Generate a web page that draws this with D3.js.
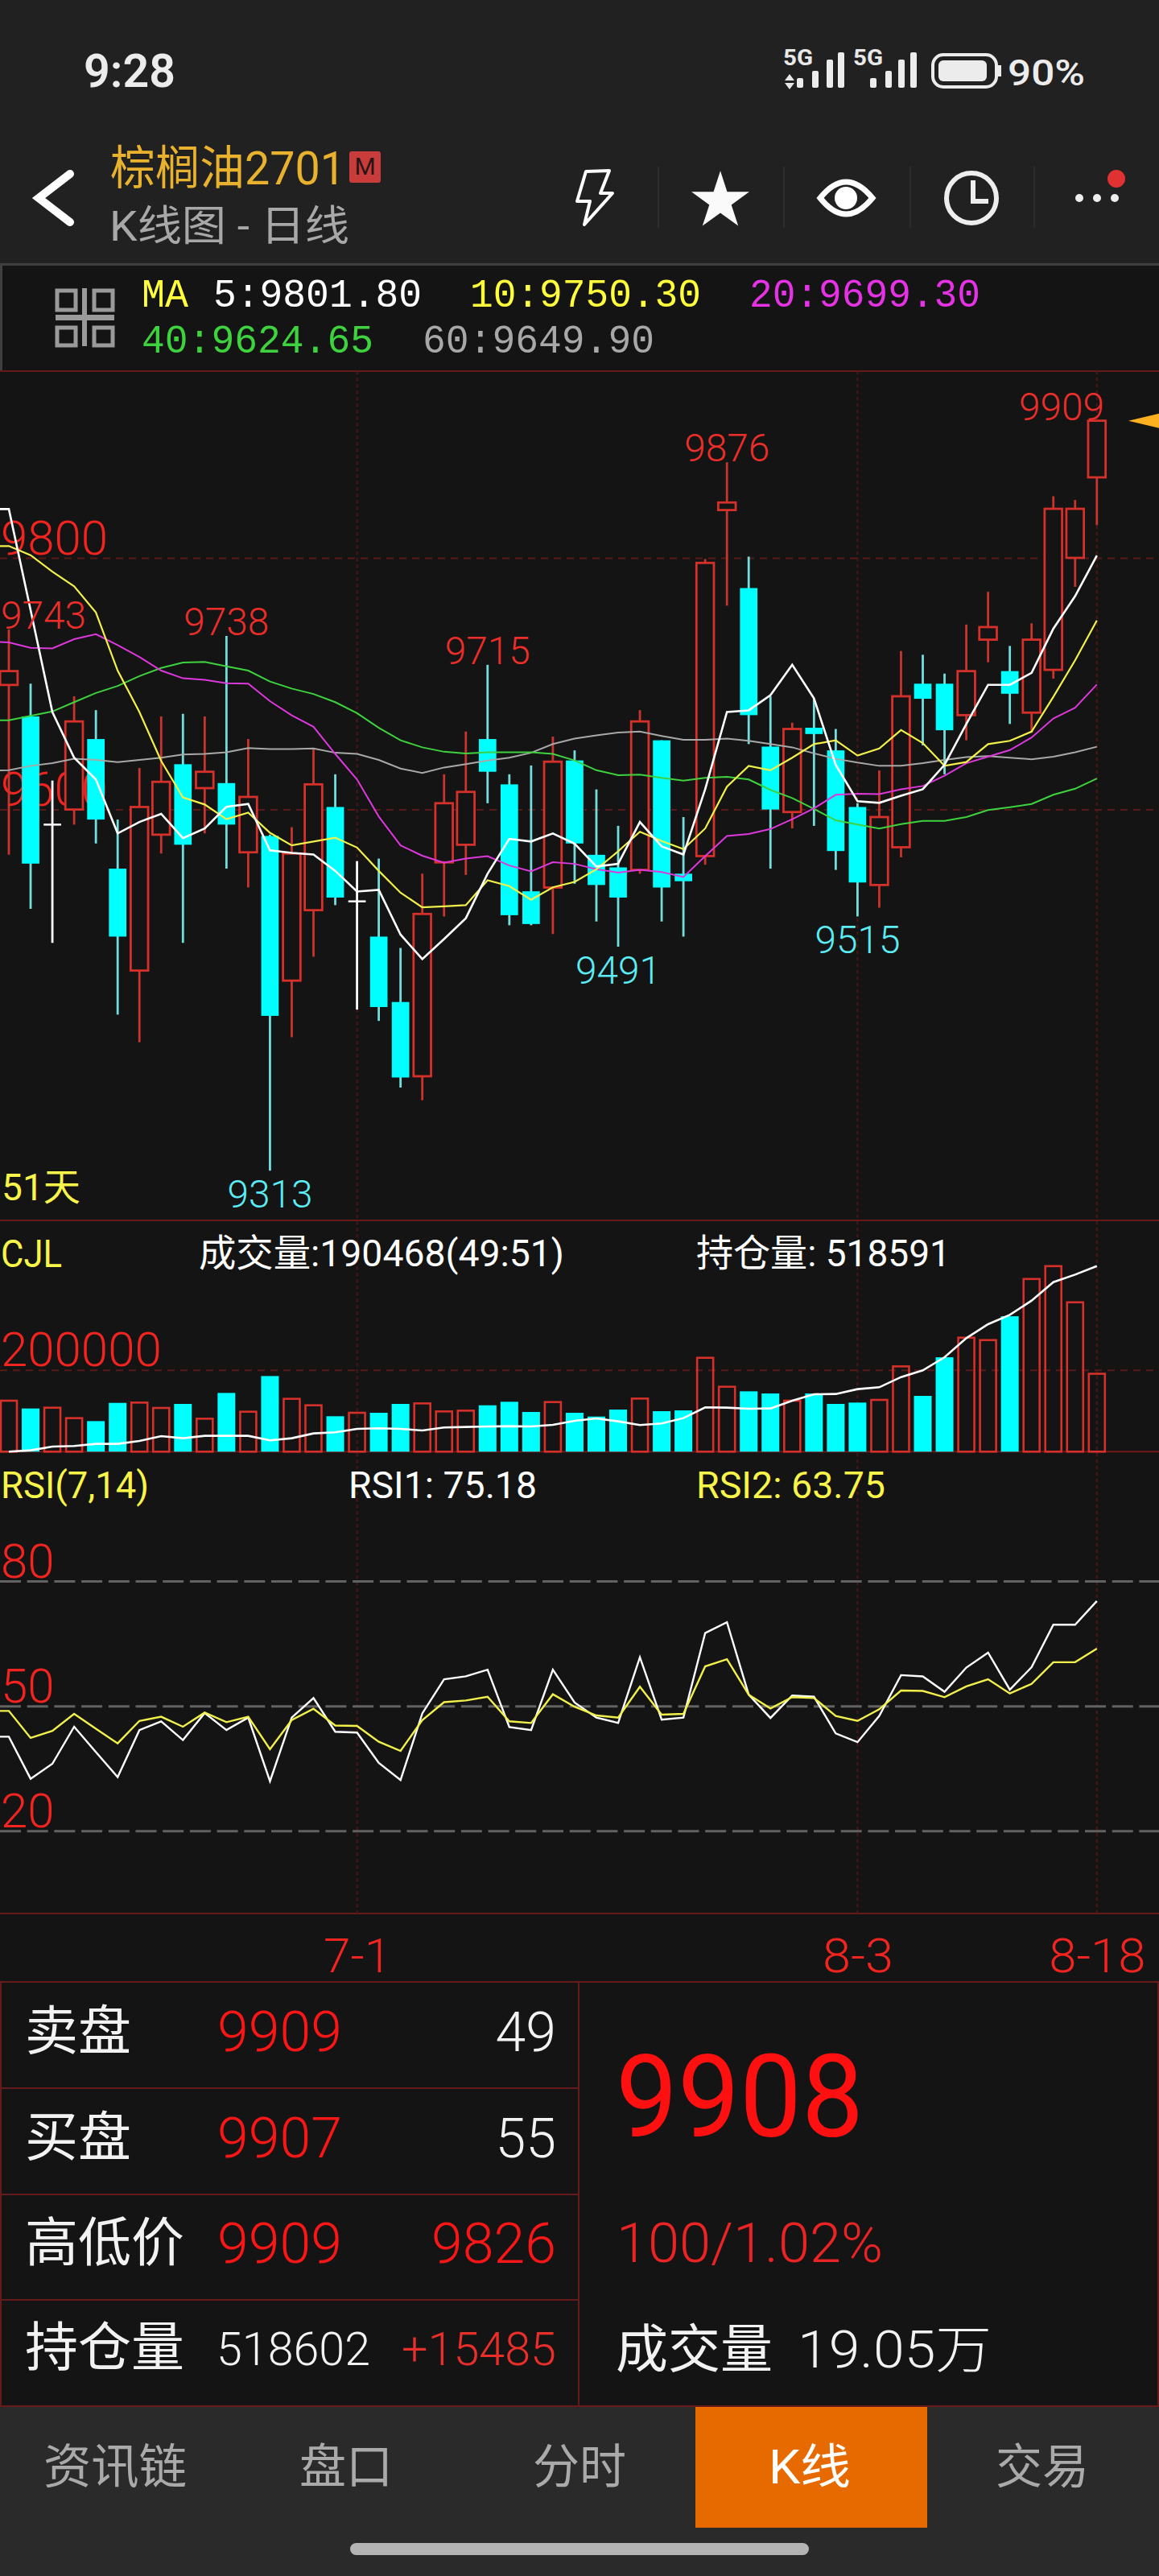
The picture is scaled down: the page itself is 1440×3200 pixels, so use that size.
<!DOCTYPE html>
<html><head><meta charset="utf-8">
<script src="https://cdn.jsdelivr.net/npm/d3@7/dist/d3.min.js"></script>
<style>
html,body{margin:0;padding:0;background:#212121}
svg{display:block}
text{font-family:Roboto,"Noto Sans CJK SC",sans-serif}
.mono{font-family:"Liberation Mono","DejaVu Sans Mono",monospace}
</style></head><body><div id="c"></div>
<script>
// ---------- data ----------
const candleOpen=[9699,9674,9588,9600,9656,9553,9472,9580,9636,9617,9621,9566,9579,9464,9520,9602,9527,9499,9447,9388,9558,9572,9656,9620,9535,9538,9639,9564,9554,9552,9655,9549,9563,9838,9776,9650,9598,9665,9647,9602,9540,9570,9700,9700,9675,9735,9710,9677,9711,9800,9864];
const candleClose=[9710,9557,9588,9670,9592,9499,9602,9622,9572,9630,9588,9610,9436,9565,9620,9530,9527,9443,9387,9517,9605,9614,9630,9516,9509,9638,9573,9540,9530,9670,9538,9543,9796,9844,9675,9600,9664,9660,9567,9542,9594,9690,9688,9663,9710,9745,9692,9735,9839,9839,9909];
const candleHigh=[9743,9700,9623,9690,9679,9592,9633,9674,9676,9674,9738,9656,9580,9586,9649,9628,9559,9561,9490,9549,9628,9662,9715,9628,9635,9658,9647,9616,9587,9679,9655,9594,9799,9876,9801,9690,9669,9688,9664,9605,9631,9726,9723,9708,9747,9773,9730,9748,9849,9846,9909];
const candleLow=[9564,9521,9494,9588,9573,9437,9415,9565,9494,9581,9553,9538,9313,9419,9483,9524,9441,9432,9379,9369,9515,9548,9605,9508,9508,9501,9541,9511,9491,9549,9511,9499,9556,9762,9652,9553,9585,9587,9552,9515,9522,9562,9651,9628,9655,9717,9668,9661,9704,9777,9826];
// moving averages: first value is the day before the first candle
const ma5=[9838.8,9838.8,9758.4,9677.5,9641.2,9623.9,9581.0,9590.1,9596.6,9577.2,9584.9,9602.2,9604.4,9567.6,9565.5,9564.2,9551.2,9534.8,9536.1,9500.6,9481.1,9497.1,9513.6,9549.0,9576.7,9574.6,9581.0,9572.8,9554.7,9556.8,9590.1,9570.7,9564.2,9616.1,9677.5,9678.8,9690.9,9715.1,9688.3,9635.5,9606.6,9605.3,9610.9,9616.1,9635.5,9668.0,9699.1,9699.1,9708.6,9743.7,9769.6,9801.8];
const ma10=[9809.4,9809.4,9802.1,9789.1,9777.4,9756.6,9710.4,9677.5,9638.6,9609.6,9604.0,9592.3,9597.5,9581.5,9571.5,9574.6,9577.6,9569.8,9551.2,9533.9,9522.2,9523.1,9524.0,9543.8,9539.1,9528.3,9538.2,9542.5,9552.5,9566.8,9582.3,9575.0,9568.5,9584.9,9618.2,9634.7,9631.2,9641.2,9652.0,9655.0,9642.9,9648.5,9663.2,9652.8,9634.7,9637.7,9652.0,9654.6,9661.9,9689.6,9718.6,9750.3];
const ma20=[9733.7,9732.8,9728.5,9728.1,9735.4,9739.3,9730.7,9721.2,9710.4,9704.3,9703.0,9700.4,9700.0,9686.1,9674.9,9665.8,9644.2,9623.9,9594.4,9571.5,9563.3,9557.7,9561.1,9562.9,9555.5,9550.8,9558.1,9556.8,9552.5,9549.9,9552.1,9550.3,9546.4,9562.9,9578.9,9580.6,9584.5,9592.3,9600.9,9611.7,9612.6,9612.2,9616.1,9618.7,9626.9,9636.8,9642.0,9647.2,9657.2,9672.3,9680.9,9699.3];
const ma40=[9671.0,9671.0,9674.5,9677.9,9685.3,9692.6,9698.2,9706.0,9712.5,9716.8,9717.3,9713.8,9710.4,9701.7,9696.1,9691.8,9685.3,9676.6,9664.9,9655.0,9649.4,9645.9,9644.6,9645.5,9645.5,9645.5,9644.2,9639.0,9631.2,9627.3,9627.8,9625.2,9623.0,9625.2,9626.0,9623.9,9615.6,9609.1,9600.5,9591.4,9588.0,9584.9,9588.4,9591.0,9591.0,9594.0,9599.6,9601.8,9604.4,9611.7,9616.5,9624.65];
const ma60=[9630.8,9631.2,9634.7,9636.8,9640.3,9639.4,9637.7,9639.4,9641.2,9643.8,9644.2,9645.5,9648.9,9648.1,9648.1,9648.5,9645.1,9644.2,9639.4,9632.5,9629.1,9633.4,9636.0,9639.0,9641.2,9645.1,9652.0,9656.3,9658.9,9661.1,9661.9,9658.5,9655.4,9655.4,9656.3,9654.6,9652.0,9649.4,9644.6,9640.3,9637.3,9634.7,9634.7,9636.8,9639.4,9641.6,9642.5,9641.2,9639.9,9642.0,9645.5,9649.9];
const volume=[124600,105600,107500,82000,74700,119300,120000,106900,116700,80600,143600,97700,184900,129200,113400,86600,95100,95100,116700,118000,98400,100300,113400,122000,97000,121300,95100,85900,102900,129800,99000,101000,229500,158700,147500,142300,124600,142300,116700,120000,126600,208500,136400,230800,278700,272800,331100,422300,453700,365200,190468];
const openInterest=[183663,186083,192859,193827,197699,197699,203023,211735,207863,212219,212219,212219,203991,207863,216575,218511,224803,225771,224803,221899,227223,228191,229159,229643,229159,232063,239323,243679,238355,231579,234483,244163,263523,263039,261103,261587,275623,287239,287723,296435,299823,318215,330315,354031,388395,413563,430503,456155,489551,503103,518591];
const rsi1=[42.6,42.6,32.5,36.1,45.0,38.9,32.9,44.2,46.3,41.8,48.3,44.2,47.2,31.9,47.2,51.9,43.8,43.6,36.3,32.2,48.2,56.4,57.1,58.7,44.9,44.2,58.7,50.8,47.2,45.9,61.7,46.7,47.2,67.5,70.1,52.7,47.1,52.5,52.2,43.4,41.3,47.6,57.4,57.1,53.4,59.2,62.8,53.9,59.3,69.5,69.5,75.18];
const rsi2=[48.8,48.8,42.3,44.0,48.1,44.5,41.0,46.4,47.4,45.0,48.4,46.1,47.4,39.6,46.6,49.3,45.3,45.2,41.4,39.2,46.6,50.9,51.3,52.2,46.3,45.9,52.8,49.8,47.7,47.2,54.6,47.9,48.1,59.5,61.2,52.7,49.4,52.1,51.9,47.6,46.4,49.2,53.7,53.6,52.1,54.7,56.4,53.0,55.3,60.5,60.5,63.75];
const priceTicks=[9600,9800];
const volumeTicks=[200000];
const rsiTicks=[20,50,80];
const dateIndex=[16,39,50];
const dateLabels=["7-1","8-3","8-18"];
const peakIndex=[0,10,22,33,50];
const troughIndex=[12,28,39];
const maHeader=[["5:9801.80","#ffffff"],["10:9750.30","#ffff3c"],["20:9699.30","#e432e4"],["40:9624.65","#3ed23e"],["60:9649.90","#a8a8a8"]];
const navLabels=["资讯链","盘口","分时","K线","交易"];

// ---------- page ----------
const W=1440,H=3200;
const svg=d3.select("#c").append("svg").attr("width",W).attr("height",H).attr("viewBox",[0,0,W,H]);
const RED="#d5302a",TXTRED="#f22420",CY="#00ffff",GRID="#5a1818",LINE="#661a1a";
const rect=(g,x,y,w,h,f)=>g.append("rect").attr("x",x).attr("y",y).attr("width",w).attr("height",h).attr("fill",f);
function T(g,s,x,y,size,fill,o={}){
  const t=g.append("text").attr("x",x).attr("y",y).attr("font-size",size).attr("fill",fill)
   .attr("text-anchor",o.anchor||"start").attr("font-weight",o.weight||400).text(s);
  if(o.len)t.attr("textLength",o.len).attr("lengthAdjust","spacingAndGlyphs");
  if(o.cls)t.attr("class",o.cls);
  return t;
}
rect(svg,0,0,W,H,"#212121");
rect(svg,0,328,W,2662,"#141414");

// header
const hd=svg.append("g");
T(hd,"9:28",104,108,58,"#ececec",{weight:600,len:114});
function signal(g,x0,bars,arrows){
  T(g,"5G",x0,81,27,"#e8e8e8",{weight:700,len:37});
  if(arrows){g.append("path").attr("d",`M${x0+8} 92l-6 8h12zM${x0+8} 111l-6 -8h12z`).attr("fill","#e8e8e8");}
  bars.forEach(b=>g.append("rect").attr("x",b[0]).attr("y",b[1]).attr("width",8).attr("height",109-b[1]).attr("rx",2).attr("fill","#ececec"));
}
signal(hd,973,[[990,97],[1009,88],[1027,74],[1041,65]],true);
signal(hd,1060,[[1081,97],[1100,88],[1116,74],[1131,65]],false);
hd.append("rect").attr("x",1159).attr("y",68).attr("width",79).attr("height",40).attr("rx",13).attr("fill","none").attr("stroke","#ececec").attr("stroke-width",4);
hd.append("rect").attr("x",1166).attr("y",75).attr("width",60).attr("height",26).attr("rx",6).attr("fill","#ececec");
rect(hd,1240,81,4,14,"#ececec");
T(hd,"90%",1252,106,44,"#ececec",{weight:500,len:96});
hd.append("path").attr("d","M87 216L48 246L87 276").attr("fill","none").attr("stroke","#fff").attr("stroke-width",10).attr("stroke-linecap","round").attr("stroke-linejoin","miter");
T(hd,"棕榈油2701",137,229,58,"#e8b22e",{len:292});
hd.append("rect").attr("x",434).attr("y",188).attr("width",39).attr("height",39).attr("rx",3).attr("fill","#c83c3c");
T(hd,"M",453.5,217,30,"#2a1414",{anchor:"middle"});
T(hd,"K线图 - 日线",136,299,52,"#a8a8a8",{len:298});
[817,973,1130,1284].forEach(x=>rect(hd,x,207,2,76,"#2d2d2d"));
hd.append("path").attr("d","M728 213L757 212L746 240L761 240L726 279L733 250L717 250Z").attr("fill","none").attr("stroke","#fff").attr("stroke-width",4).attr("stroke-linejoin","round");
hd.append("path").attr("d",d3.symbol(d3.symbolStar,1600)).attr("transform","translate(895,250)").attr("fill","#fafafa");
hd.append("path").attr("d","M1019 246Q1051 206 1084 246Q1051 286 1019 246Z").attr("fill","none").attr("stroke","#fff").attr("stroke-width",7);
hd.append("circle").attr("cx",1051).attr("cy",246).attr("r",14).attr("fill","#fff");
hd.append("circle").attr("cx",1207).attr("cy",246).attr("r",31).attr("fill","none").attr("stroke","#eee").attr("stroke-width",6);
hd.append("path").attr("d","M1209 224V250H1228").attr("fill","none").attr("stroke","#eee").attr("stroke-width",6);
[1341,1363,1385].forEach(x=>hd.append("circle").attr("cx",x).attr("cy",246).attr("r",5).attr("fill","#eee"));
hd.append("circle").attr("cx",1387).attr("cy",222).attr("r",11).attr("fill","#e03232");

// MA header panel
rect(svg,0,327,W,3,"#3f3f3f");
rect(svg,0,327,3,134,"#3f3f3f");
const q=svg.append("g").attr("fill","none").attr("stroke","#9a9a9a").attr("stroke-width",5);
[[71,361],[117,361],[71,407],[117,407]].forEach(p=>q.append("rect").attr("x",p[0]).attr("y",p[1]).attr("width",23).attr("height",p[1]<400?24:22));
rect(svg,69,391,73,7,"#9a9a9a");rect(svg,102,358,6,40,"#9a9a9a");rect(svg,102,398,6,32,"#9a9a9a");
T(svg,"MA",176,381,50,"#ffff3c",{cls:"mono",len:58});
T(svg,maHeader[0][0],265,381,50,maHeader[0][1],{cls:"mono",len:259});
T(svg,maHeader[1][0],584,381,50,maHeader[1][1],{cls:"mono",len:287});
T(svg,maHeader[2][0],931,381,50,maHeader[2][1],{cls:"mono",len:287});
T(svg,maHeader[3][0],176,438,50,maHeader[3][1],{cls:"mono",len:288});
T(svg,maHeader[4][0],525,438,50,maHeader[4][1],{cls:"mono",len:288});

// scales
const x=d3.scaleLinear().domain([0,50]).range([11,1362.8]);
const y=d3.scaleLinear().domain([9600,9800]).range([1005.6,693]);
const yVol=d3.scaleLinear().domain([0,200000]).range([1803.3,1701.7]);
const yOI=d3.scaleLinear().domain([183663,518591]).range([1803.3,1572.7]);
const yRsi=d3.scaleLinear().domain([20,80]).range([2274.3,1964]);
const bodyW=21.7,volW=22;

// panel frames
[461,1516,2377,2462].forEach(v=>rect(svg,0,v-1,W,2,LINE));
rect(svg,0,1802.3,W,2,"#701a1a");

// vertical grid
svg.append("g").selectAll("line").data(dateIndex).join("line")
 .attr("x1",d=>x(d)).attr("x2",d=>x(d)).attr("y1",461).attr("y2",2377)
 .attr("stroke","#4e1616").attr("stroke-width",2).attr("stroke-dasharray","4 4");

// price axis
function styleAxis(g,color,dash,sw,fs,dy){
  g.select(".domain").remove();
  g.selectAll(".tick line").attr("stroke",color).attr("stroke-width",sw).attr("stroke-dasharray",dash);
  g.selectAll(".tick text").attr("x",1).attr("dy",dy).attr("text-anchor","start").attr("font-size",fs)
   .attr("font-family","Roboto").attr("font-weight",300).attr("fill",TXTRED);
}
svg.append("g").call(d3.axisRight(y).tickValues(priceTicks).tickSize(W).tickFormat(d3.format("d"))).call(styleAxis,GRID,"9 7",2,60,-5);

// candles
const idx=d3.range(51);
const up=i=>candleClose[i]>candleOpen[i], dn=i=>candleClose[i]<candleOpen[i];
const wickCol=i=>up(i)?"#c8352e":dn(i)?"#74dede":"#ffffff";
const cg=svg.append("g");
cg.selectAll("line.w").data(idx).join("line").attr("class","w")
 .attr("x1",i=>x(i)).attr("x2",i=>x(i)).attr("y1",i=>y(candleHigh[i])).attr("y2",i=>y(candleLow[i]))
 .attr("stroke",wickCol).attr("stroke-width",2.8);
cg.selectAll("rect.b").data(idx.filter(i=>candleClose[i]!==candleOpen[i])).join("rect").attr("class","b")
 .attr("x",i=>x(i)-bodyW/2).attr("width",bodyW)
 .attr("y",i=>y(Math.max(candleOpen[i],candleClose[i])))
 .attr("height",i=>Math.max(1,Math.abs(y(candleOpen[i])-y(candleClose[i]))))
 .attr("fill",i=>up(i)?"#141414":CY).attr("stroke",i=>up(i)?RED:CY).attr("stroke-width",i=>up(i)?2.8:0);
cg.selectAll("line.d").data(idx.filter(i=>candleClose[i]===candleOpen[i])).join("line").attr("class","d")
 .attr("x1",i=>x(i)-bodyW/2).attr("x2",i=>x(i)+bodyW/2).attr("y1",i=>y(candleOpen[i])).attr("y2",i=>y(candleOpen[i]))
 .attr("stroke","#fff").attr("stroke-width",2.5);

// moving averages
svg.append("clipPath").attr("id","cp").append("rect").attr("x",0).attr("y",461).attr("width",W).attr("height",2000);
const maLine=d3.line().x((d,i)=>x(i-1)).y(d=>y(d));
[[ma60,"#a8a8a8",2],[ma40,"#3ed23e",2],[ma20,"#dc38dc",2],[ma10,"#f2f04a",2.2],[ma5,"#ffffff",2.6]].forEach(m=>
 svg.append("path").attr("clip-path","url(#cp)").attr("d",maLine(m[0])).attr("fill","none").attr("stroke",m[1]).attr("stroke-width",m[2]));

// peak / trough labels
const lab=svg.append("g");
peakIndex.forEach(i=>{
  const s=String(candleHigh[i]),w=106;
  let cx=x(i); cx=Math.max(1+w/2,Math.min(1372-w/2,cx));
  T(lab,s,cx,y(candleHigh[i])-1,48,"#ea2e2a",{anchor:"middle",weight:300,len:w});
});
troughIndex.forEach(i=>T(lab,String(candleLow[i]),x(i),y(candleLow[i])+46,48,"#5cecf4",{anchor:"middle",weight:300,len:106}));
T(svg,"51天",2,1491,47,"#f8f44a",{len:98});
svg.append("path").attr("d",`M1402 ${y(9909)}L1440 ${y(9909)-9}V${y(9909)+9}Z`).attr("fill","#ffb020");

// volume panel
svg.append("g").call(d3.axisRight(yVol).tickValues(volumeTicks).tickSize(W).tickFormat(d3.format("d"))).call(styleAxis,GRID,"9 7",2,60,-5);
T(svg,"CJL",1,1574,48,"#f8f44a",{len:76});
T(svg,"成交量:190468(49:51)",247,1573,47,"#ffffff",{len:454});
T(svg,"持仓量: 518591",865,1573,47,"#ffffff",{len:316});
const vg=svg.append("g");
vg.selectAll("rect").data(idx).join("rect")
 .attr("x",i=>x(i)-volW/2+(dn(i)?0:1)).attr("width",i=>dn(i)?volW:volW-2)
 .attr("y",i=>yVol(volume[i])).attr("height",i=>yVol(0)-yVol(volume[i]))
 .attr("fill",i=>dn(i)?CY:"none").attr("stroke",i=>dn(i)?"none":RED).attr("stroke-width",2.6);
svg.append("path").attr("d",d3.line().x((d,i)=>x(i)).y(d=>yOI(d))(openInterest)).attr("fill","none").attr("stroke","#fff").attr("stroke-width",2.6);

// RSI panel
T(svg,"RSI(7,14)",1,1861,47,"#f8f44a",{len:184});
T(svg,"RSI1: 75.18",433,1861,47,"#ffffff",{len:234});
T(svg,"RSI2: 63.75",865,1861,47,"#f8f44a",{len:235});
svg.append("g").call(d3.axisRight(yRsi).tickValues(rsiTicks).tickSize(W)).call(styleAxis,"#626262","26 7.7",3,60,-5);
const rl=d3.line().x((d,i)=>x(i-1)).y(d=>yRsi(d));
svg.append("path").attr("clip-path","url(#cp)").attr("d",rl(rsi1)).attr("fill","none").attr("stroke","#fff").attr("stroke-width",2.4);
svg.append("path").attr("clip-path","url(#cp)").attr("d",rl(rsi2)).attr("fill","none").attr("stroke","#f2f04a").attr("stroke-width",2.4);

// date axis
const dg=svg.append("g").attr("transform","translate(0,2377)").call(d3.axisBottom(x).tickValues(dateIndex).tickSize(0).tickFormat((d,i)=>dateLabels[i]));
dg.select(".domain").remove();
dg.selectAll("text").attr("y",73).attr("dy",0).attr("font-family","Roboto").attr("font-size",60).attr("font-weight",300).attr("fill",TXTRED)
 .attr("textLength",(d,i)=>[84,88,120][i]).attr("lengthAdjust","spacingAndGlyphs");

// quote table
[[0,2462,2,528],[718,2462,2,528],[1438,2462,2,528]].forEach(r=>rect(svg,r[0],r[1],r[2],r[3],LINE));
[2593,2725,2856].forEach(v=>rect(svg,0,v,719,2,LINE));
rect(svg,0,2988,W,2,LINE);
const W2="#f2f2f2",TR="#f81616";
T(svg,"卖盘",31,2546,66,W2);T(svg,"9909",270,2548,70,TR,{weight:300,len:155});T(svg,"49",691,2548,68,W2,{anchor:"end",weight:300});
T(svg,"买盘",31,2678,66,W2);T(svg,"9907",270,2680,70,TR,{weight:300,len:155});T(svg,"55",691,2680,68,W2,{anchor:"end",weight:300});
T(svg,"高低价",31,2809,66,W2);T(svg,"9909",270,2811,70,TR,{weight:300,len:155});T(svg,"9826",691,2811,70,TR,{anchor:"end",weight:300,len:155});
T(svg,"持仓量",31,2939,66,W2);T(svg,"518602",269,2938,58,W2,{weight:300,len:191});T(svg,"+15485",691,2938,58,"#ea2e2a",{anchor:"end",weight:300,len:192});
T(svg,"9908",765,2654,142,"#ff1010",{weight:400,len:308});
T(svg,"100/1.02%",766,2810,68,"#ea2424",{weight:300,len:331});
T(svg,"成交量",765,2941,65,W2);T(svg,"19.05万",991,2941,64,W2,{weight:300,len:241});

// bottom nav
rect(svg,0,2990,W,210,"#2a2a2a");
rect(svg,864,2990,288,150,"#e66a00");
[143,430,720,1006,1295].forEach((cx,i)=>T(svg,navLabels[i],cx,3085,59,i===3?"#ffffff":"#aaaaaa",{anchor:"middle",len:i===0?178:i===3?102:116}));
svg.append("rect").attr("x",435).attr("y",3159).attr("width",570).attr("height",15).attr("rx",7.5).attr("fill","#b4b4b4");
</script></body></html>
